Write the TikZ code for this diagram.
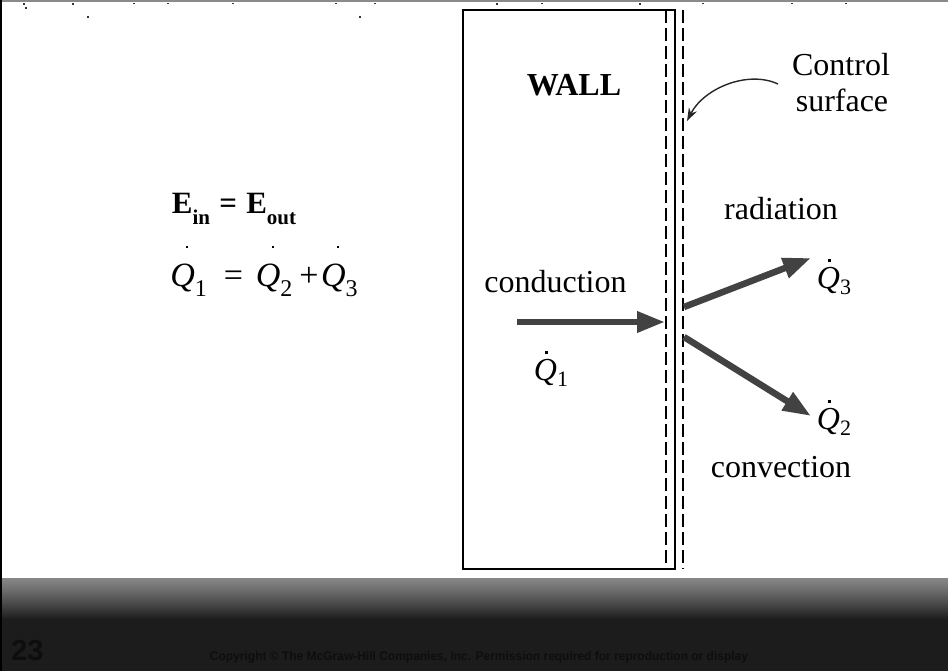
\documentclass[tikz,border=0pt]{standalone}
\usepackage{fontspec}
\usepackage{graphicx}
\setmainfont{Liberation Serif}
\newfontfamily\sansfnt{Liberation Sans}
\usetikzlibrary{arrows.meta}
\definecolor{arrowgray}{HTML}{424242}
\definecolor{topgray}{HTML}{8A8A8A}
\definecolor{barlight}{HTML}{868686}
\definecolor{bardark}{HTML}{1C1C1C}
\definecolor{bartext}{HTML}{0E0E0E}
% dotted Q for labels beside the arrows
\newcommand{\Qlab}[1]{\makebox[0pt][l]{\hspace{0.34em}\rule[0.80em]{3.2pt}{3.2pt}}\textit{Q}\raisebox{-0.2em}{\fontsize{22}{22}\selectfont #1}}
% dotted Q for the balance equation (small dot, set high)
\newcommand{\Qeq}[1]{\makebox[0pt][l]{\hspace{0.46em}\rule[1.15em]{2.2pt}{2.2pt}}\textit{Q}\raisebox{-0.28em}{\fontsize{24}{24}\selectfont #1}}
\begin{document}
\begin{tikzpicture}[x=1pt,y=-1pt,
  lbl/.style={font=\fontsize{32}{38}\selectfont, inner sep=0pt, anchor=base},
  heat/.style={line width=6.5pt, draw=arrowgray, -{Triangle[length=28pt,width=20pt,fill=arrowgray]}},
  dashline/.style={line width=1.8pt, dash pattern=on 13pt off 5pt},
  speck/.style={fill=black!80, minimum size=1.4pt, inner sep=0pt, draw=none}]
\useasboundingbox (0,0) rectangle (948,671);
\fill[white] (0,0) rectangle (948,671);
% top grey band
\fill[topgray] (0,0) rectangle (948,2.5);
% bottom bar: gradient strips then solid
\foreach \i in {0,...,41}{
  \pgfmathsetmacro\p{100*(\i/41)^1.15}
  \fill[bardark!\p!barlight] (0,578+\i) rectangle (948,579.2+\i);
}
\fill[bardark] (0,620) rectangle (948,671);
% left black border
\fill[black] (0,0) rectangle (2.3,671);
% specks along the top
\foreach \sx/\sy in {24/4,26/8,73/4,134/3.5,168/3.5,233/3.5,336/3.5,375/3.5,497/4,542/3.5,640/4,703/3.5,792/3.5,846/3.5,88/17,360/17}{
  \node[speck] at (\sx,\sy) {};
}
% wall and control surface
\draw[line width=2pt] (463,10) rectangle (675,569);
\draw[dashline] (666,10) -- (666,566);
\draw[dashline] (683,10) -- (683,569);
% texts
\node[lbl, font=\fontsize{32}{36}\selectfont\bfseries] (wall) at (574,96) {WALL};
\node[lbl] (control) at (841,76) {Control};
\node[lbl] (surface) at (842,112) {surface};
\node[lbl] (cond) at (555.5,292) {conduction};
\node[lbl] (rad) at (781,220) {radiation};
\node[lbl] (conv) at (781,477) {convection};
\node[lbl] (q1) at (551,380) {\Qlab{1}};
\node[lbl] (q3) at (834,288) {\Qlab{3}};
\node[lbl] (q2) at (834,429) {\Qlab{2}};
\node[lbl, font=\fontsize{31}{35}\selectfont\bfseries] (energy) at (234,214)
  {E\raisebox{-0.33em}{\fontsize{21}{21}\selectfont in}\hspace{0.3em}=\hspace{0.3em}E\raisebox{-0.33em}{\fontsize{21}{21}\selectfont out}};
\node[lbl, font=\fontsize{34}{40}\selectfont] (balance) at (264,287)
  {\Qeq{1}\hspace{0.5em}=\hspace{0.38em}\Qeq{2}\hspace{0.2em}+\hspace{0.08em}\Qeq{3}};
% arrow end points
\coordinate (c0) at (517,322);
\coordinate (c1) at (665,322);
\coordinate (r0) at (684,307);
\coordinate (r1) at (811,258);
\coordinate (v0) at (684,337);
\coordinate (v1) at (811,416);
\coordinate (p0) at (778,84);
\coordinate (p1) at (687,121);
\draw[heat] (c0) -- (c1);
\draw[heat] (r0) -- (r1);
\draw[heat] (v0) -- (v1);
\draw[line width=1.4pt, draw=black!85, -{Stealth[length=13pt,width=9pt]}] (p0) .. controls (748,70) and (704,88) .. (p1);
% bottom bar texts
\node[font=\sansfnt\bfseries\fontsize{29}{32}\selectfont, text=bartext, inner sep=0pt, anchor=base] (num) at (27.5,660) {23};
\node[text=bartext, inner sep=0pt, anchor=base] (copy) at (479,660)
  {\resizebox{538pt}{\height}{\sansfnt\bfseries\fontsize{12.5}{14}\selectfont Copyright \textcopyright\ The McGraw-Hill Companies, Inc. Permission required for reproduction or display}};
\end{tikzpicture}
\end{document}
